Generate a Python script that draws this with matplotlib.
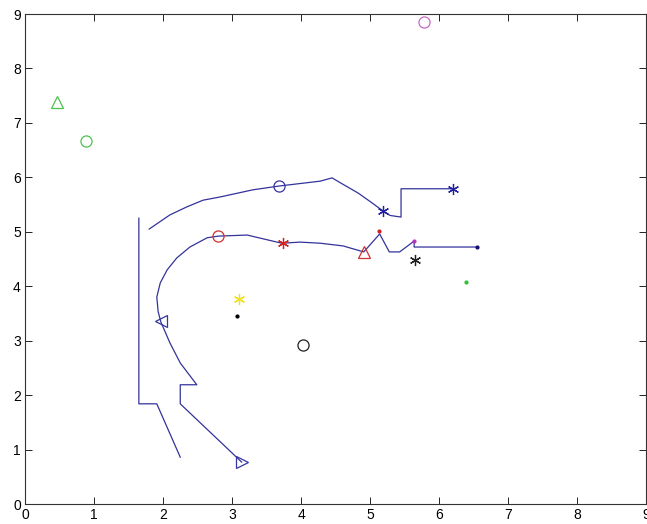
import matplotlib
matplotlib.use("Agg")
import matplotlib.pyplot as plt

plt.rcParams['font.family'] = ['Liberation Sans', 'DejaVu Sans']

# upper curve
upper_x = [1.80, 2.10, 2.35, 2.58, 2.83, 3.30, 3.68, 4.28, 4.45, 4.57, 4.83, 5.03, 5.19, 5.29, 5.45, 5.45, 6.20]
upper_y = [5.05, 5.31, 5.46, 5.58, 5.64, 5.77, 5.84, 5.93, 5.99, 5.90, 5.71, 5.53, 5.38, 5.30, 5.27, 5.79, 5.79]

# lower curve
lower_x = [3.14, 2.25, 2.25, 2.49, 2.25, 2.10, 1.97, 1.93, 1.91, 1.96, 2.06, 2.20, 2.39, 2.64, 2.80,
           3.22, 3.72, 3.99, 4.28, 4.61, 4.91, 5.14, 5.28, 5.43, 5.64, 5.64, 6.55]
lower_y = [0.77, 1.84, 2.19, 2.19, 2.59, 2.96, 3.34, 3.53, 3.80, 4.06, 4.30, 4.52, 4.72, 4.89, 4.92,
           4.94, 4.79, 4.81, 4.79, 4.74, 4.63, 4.96, 4.63, 4.63, 4.83, 4.72, 4.72]

# left bracket
wall_x = [1.65, 1.65, 1.91, 2.25]
wall_y = [5.25, 1.84, 1.84, 0.86]

# markers: (x, y, marker, color)
marks = [
    (0.46, 7.38, '^', '#4cc24c'),
    (0.88, 6.67, 'o', '#4cc24c'),
    (5.78, 8.85, 'o', '#c46ac4'),
    (3.68, 5.84, 'o', '#3535a0'),
    (5.19, 5.38, 'ast', '#2020a0'),
    (6.20, 5.79, 'ast', '#2020a0'),
    (2.80, 4.92, 'o', '#d03030'),
    (3.74, 4.79, 'ast', '#d02020'),
    (5.13, 5.01, '.', '#d02020'),
    (4.91, 4.63, '^', '#d03030'),
    (5.64, 4.83, '.', '#c030c0'),
    (6.55, 4.72, '.', '#101070'),
    (5.65, 4.48, 'ast', '#202020'),
    (6.39, 4.08, '.', '#30c030'),
    (3.10, 3.77, 'ast', '#f0e020'),
    (3.07, 3.45, '.', '#000000'),
    (4.03, 2.92, 'o', '#202020'),
    (1.97, 3.36, '<', '#3535a0'),
    (3.14, 0.77, '>', '#3535a0'),
]

fig = plt.figure(figsize=(6.47, 5.24), dpi=100)
ax = fig.add_axes([25 / 647, 20 / 524, 621 / 647, 490 / 524])

line_color = '#33339a'
ax.plot(upper_x, upper_y, color=line_color, lw=0.9)
ax.plot(lower_x, lower_y, color=line_color, lw=0.9)
ax.plot(wall_x, wall_y, color=line_color, lw=0.9)

for x, y, m, c in marks:
    if m == 'ast':
        ax.plot(x, y, marker=(6, 2, 0), color=c, markersize=8, mew=0.9, ls='none')
    elif m == '.':
        ax.plot(x, y, marker='o', color=c, markersize=2, ls='none')
    else:
        ax.plot(x, y, marker=m, mfc='none', mec=c, markersize=8, mew=0.9, ls='none')

ax.set_xlim(0, 9)
ax.set_ylim(0, 9)
ax.set_xticks(range(10))
ax.set_yticks(range(10))
ax.tick_params(direction='in', top=True, right=True, length=5, width=0.6,
               labelsize=10, colors='#000000', pad=3)
for s in ax.spines.values():
    s.set_linewidth(0.8)
    s.set_color('#333333')

fig.savefig("out.png", dpi=100)
